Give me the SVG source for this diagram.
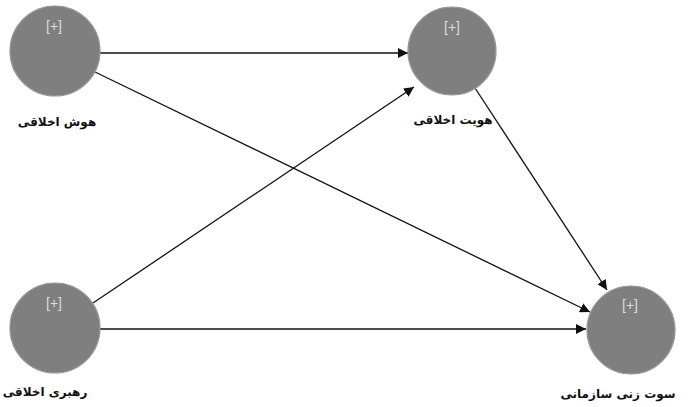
<svg xmlns="http://www.w3.org/2000/svg" width="688" height="407" viewBox="0 0 688 407">
<style>
.node{fill:#7f7f7f;stroke:#979797;stroke-width:1.2}
.plus{fill:#dcdcdc;font-family:"Liberation Sans",Arial,sans-serif;font-size:14px;text-anchor:middle}
.lbl{fill:#111;font-family:"DejaVu Sans","Noto Sans",sans-serif;font-size:12px;font-weight:bold;text-anchor:middle}
.edge{stroke:#111;stroke-width:1.3;fill:none;marker-end:url(#ah)}
</style>
<defs>
<marker id="ah" viewBox="0 0 10 10" refX="10" refY="5" markerWidth="10" markerHeight="10" markerUnits="userSpaceOnUse" orient="auto">
<path d="M0,0 L10,5 L0,10 Z" fill="#111"/>
</marker>
</defs>
<rect width="688" height="407" fill="#fff"/>
<g id="connectors">
<line class="edge" x1="100" y1="53" x2="408" y2="53"/>
<line class="edge" x1="95" y1="72" x2="590" y2="312"/>
<line class="edge" x1="93" y1="303" x2="414" y2="87"/>
<line class="edge" x1="475" y1="88" x2="607" y2="290"/>
<line class="edge" x1="100" y1="329" x2="586" y2="329"/>
</g>
<g id="n1">
<circle class="node" cx="55" cy="51" r="45"/>
<text class="plus" x="54" y="31">[+]</text>
<text class="lbl" x="57" y="126">هوش اخلاقی</text>
</g>
<g id="n2">
<circle class="node" cx="452" cy="51" r="44"/>
<text class="plus" x="452" y="32">[+]</text>
<text class="lbl" x="453" y="124">هویت اخلاقی</text>
</g>
<g id="n3">
<circle class="node" cx="55" cy="328" r="45"/>
<text class="plus" x="54" y="308">[+]</text>
<text class="lbl" x="45" y="396">رهبری اخلاقی</text>
</g>
<g id="n4">
<circle class="node" cx="631" cy="330" r="44"/>
<text class="plus" x="630" y="310">[+]</text>
<text class="lbl" x="618" y="398">سوت زنی سازمانی</text>
</g>
</svg>
